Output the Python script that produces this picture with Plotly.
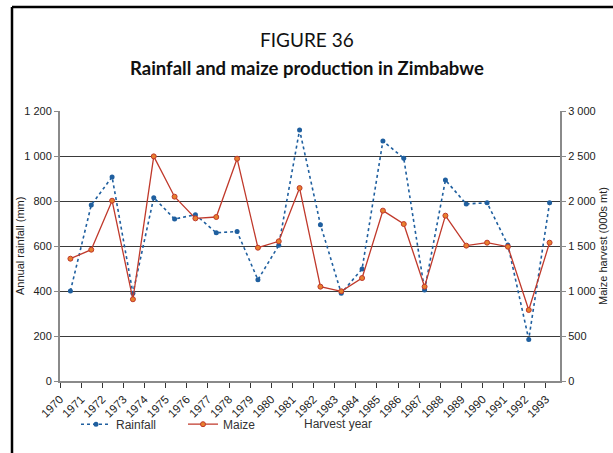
import plotly.graph_objects as go

# Harvest years and series values
years = [str(y) for y in range(1970, 1994)]
rainfall_mm = [400, 782, 907, 390, 815, 720, 739, 659, 664, 450, 603, 1116,
               695, 390, 498, 1067, 990, 404, 893, 787, 792, 604, 185, 792]
maize_kt = [1359, 1459, 2003, 908, 2496, 2048, 1807, 1822, 2470, 1481, 1552, 2144,
            1048, 997, 1144, 1893, 1744, 1048, 1837, 1504, 1537, 1492, 789, 1537]
year_ticks = list(range(1970, 1994))

BLUE = "#1f5f9f"
RED = "#c0392b"
ORANGE = "#e8802e"
GRAY = "#8a8a8a"
TXT = "#222222"
SANS = "Liberation Sans, Arial, sans-serif"
TICKFONT = dict(family=SANS, size=11, color=TXT)

fig = go.Figure()

# the year scale lives on the primary x axis; this trace only anchors it
fig.add_trace(go.Scatter(
    x=year_ticks, y=[None] * len(year_ticks), mode="lines",
    showlegend=False, hoverinfo="skip", xaxis="x", yaxis="y",
))
fig.add_trace(go.Scatter(
    x=years, y=rainfall_mm, name="Rainfall", mode="lines+markers",
    line=dict(color=BLUE, width=1.6, dash="dot"),
    marker=dict(color=BLUE, size=5, symbol="circle"),
    xaxis="x2", yaxis="y",
))
fig.add_trace(go.Scatter(
    x=years, y=maize_kt, name="Maize", mode="lines+markers",
    line=dict(color=RED, width=1.3),
    marker=dict(color=ORANGE, size=5, symbol="circle",
                line=dict(color=RED, width=1)),
    xaxis="x2", yaxis="y2",
))

fig.update_layout(
    width=613, height=453,
    margin=dict(l=60, r=53, t=111, b=72),
    paper_bgcolor="white", plot_bgcolor="white",
    separators=". ",
    showlegend=True,
    legend=dict(orientation="h", x=0.032, y=-0.16, xanchor="left", yanchor="middle",
                font=dict(family=SANS, size=12, color="#333"),
                itemwidth=30, entrywidth=62, entrywidthmode="pixels",
                tracegroupgap=0, bgcolor="rgba(0,0,0,0)"),
    xaxis=dict(range=[1970, 1970 + 500 / 21.13],
               tickmode="array", tickvals=year_ticks,
               ticktext=[str(y) for y in year_ticks],
               tickangle=-45, ticks="outside", ticklen=5, tickcolor="#333",
               tickfont=dict(family=SANS, size=11.5, color=TXT), showgrid=False,
               showline=True, linecolor=GRAY, linewidth=2, zeroline=False),
    xaxis2=dict(type="category", overlaying="x", anchor="y",
                range=[-0.5, len(years) - 0.5], visible=False, showgrid=False),
    yaxis=dict(range=[0, 1200], dtick=200, tick0=0, separatethousands=True,
               ticks="outside", ticklen=4, tickcolor=GRAY, tickfont=TICKFONT,
               showline=True, linecolor=GRAY, linewidth=2,
               showgrid=True, gridcolor="#3a3a3a", gridwidth=1, zeroline=False),
    yaxis2=dict(overlaying="y", side="right", anchor="x",
                range=[0, 3000], dtick=500, tick0=0, separatethousands=True,
                ticks="outside", ticklen=4, tickcolor=GRAY, tickfont=TICKFONT,
                showline=True, linecolor=GRAY, linewidth=2,
                showgrid=False, zeroline=False),
    annotations=[
        dict(text="FIGURE 36", xref="paper", yref="paper",
             x=(307 - 60) / 500, y=(381 - 40) / 270, xanchor="center", yanchor="middle",
             showarrow=False,
             font=dict(family="Lato, sans-serif", size=19, color="#111")),
        dict(text="<b>Rainfall and maize production in Zimbabwe</b>", xref="paper", yref="paper",
             x=(307 - 60) / 500, y=(381 - 68) / 270, xanchor="center", yanchor="middle",
             showarrow=False,
             font=dict(family="Lato, sans-serif", size=18.5, color="#111")),
        dict(text="Annual rainfall (mm)", xref="paper", yref="paper",
             x=(20 - 60) / 500, y=0.5, xanchor="center", yanchor="middle",
             textangle=-90, showarrow=False,
             font=dict(family=SANS, size=11, color=TXT)),
        dict(text="Maize harvest (000s mt)", xref="paper", yref="paper",
             x=(603 - 60) / 500, y=0.5, xanchor="center", yanchor="middle",
             textangle=-90, showarrow=False,
             font=dict(family=SANS, size=11, color=TXT)),
        dict(text="Harvest year", xref="paper", yref="paper",
             x=(302 - 60) / 500, y=-0.16, xanchor="left", yanchor="middle",
             showarrow=False,
             font=dict(family=SANS, size=12, color="#333")),
    ],
    shapes=[
        # frame: top edge and left edge
        dict(type="line", xref="paper", yref="paper",
             x0=(12 - 60) / 500, x1=(613 - 60) / 500,
             y0=(381 - 7) / 270, y1=(381 - 7) / 270,
             line=dict(color="black", width=2.5)),
        dict(type="line", xref="paper", yref="paper",
             x0=(12 - 60) / 500, x1=(12 - 60) / 500,
             y0=(381 - 7) / 270, y1=(381 - 460) / 270,
             line=dict(color="black", width=2.5)),
    ],
)

fig.write_html("out.html")
